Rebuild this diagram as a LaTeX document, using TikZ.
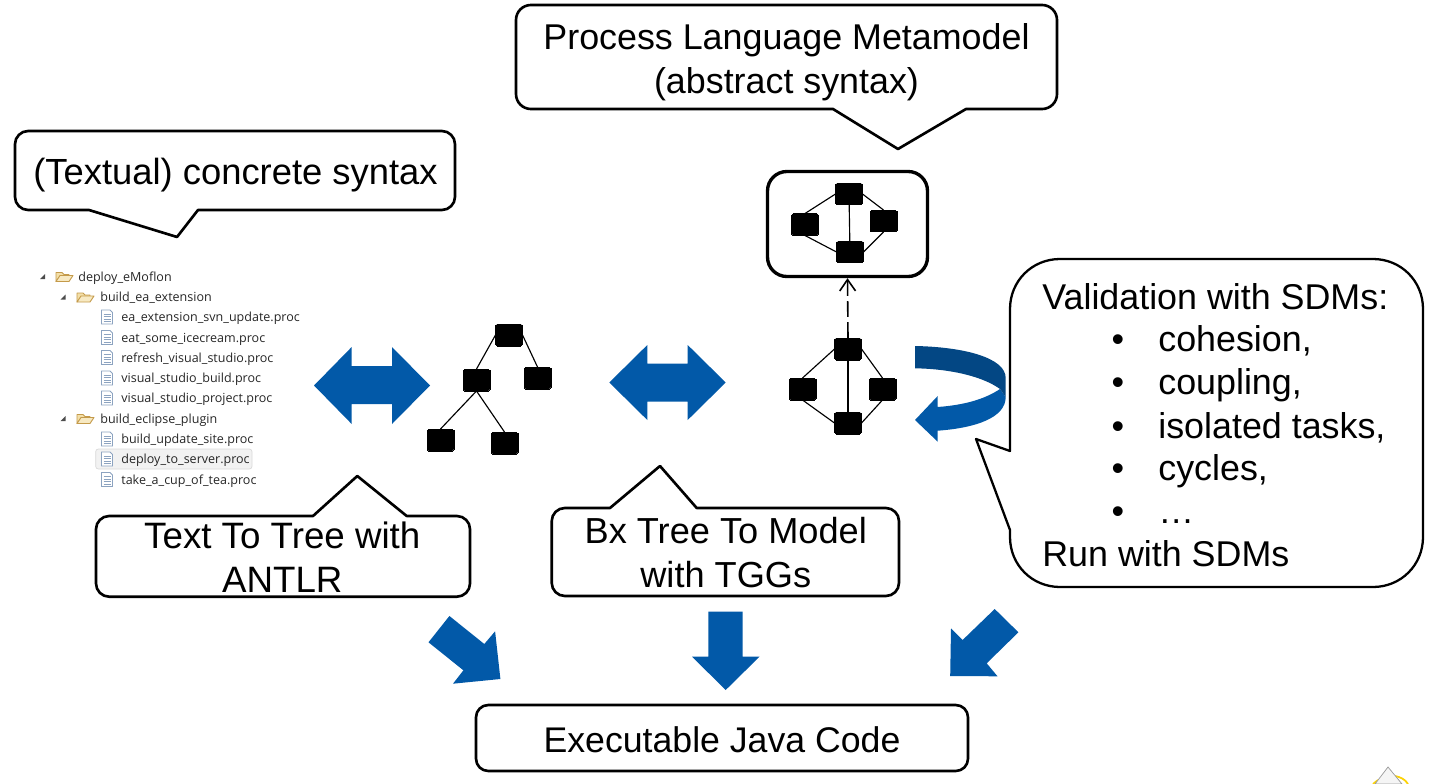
\documentclass[tikz,border=0pt]{standalone}
\usepackage{fontspec}
\setmainfont{Liberation Sans}
\newfontfamily\treefont{Open Sans}
\usetikzlibrary{arrows.meta}
\definecolor{bxblue}{HTML}{0259A8}
\definecolor{bxdark}{HTML}{034784}
\definecolor{folderline}{HTML}{C49A4A}
\definecolor{folderfill}{HTML}{F3DFA8}
\definecolor{fileline}{HTML}{8CA3C0}
\tikzset{
  callout/.style={draw=black,fill=white,line width=1.5pt,line join=round},
  talk/.style={font=\fontsize{#1}{25}\selectfont,align=center,inner sep=0pt},
  talk/.default=20.3,
  talkline/.style={font=\fontsize{20.4}{25}\selectfont,inner sep=0pt},
  graphbox/.style={fill=black,draw=black,line width=0pt,rounded corners=1pt,minimum width=0.54cm,minimum height=0.44cm,inner sep=0pt},
  graphedge/.style={draw=black,line width=0.65pt},
  blockarrow/.style={fill=bxblue},
  treeitem/.style={font=\treefont\fontsize{7.13}{8}\selectfont,text=black!85,anchor=base west,inner sep=0pt},
  treemark/.pic={\fill[black!70] (2.5,-2.5) -- (2.5,2.5) -- (-2.5,2.5) -- cycle;},
  foldericon/.pic={
    \draw[folderline,fill=folderfill,line width=0.5pt,line join=round] (0,5) -- (0,-4) -- (6,-4) -- (8,-2) -- (13,-2) -- (13,0) -- (4,0) -- cycle;
    \draw[folderline,fill=folderfill!70!white,line width=0.5pt,line join=round] (0,5) -- (4,-1) -- (17,-1) -- (13,5) -- cycle;},
  fileicon/.pic={
    \draw[fileline,fill=white,line width=0.5pt] (-5.5,-7) -- (3,-7) -- (5.5,-4.5) -- (5.5,7) -- (-5.5,7) -- cycle;
    \foreach \liney in {-3,-0.5,2,4.5} \draw[fileline,line width=0.4pt] (-3.5,\liney) -- (3.5,\liney);}
}
\begin{document}
\begin{tikzpicture}[x=0.02cm,y=-0.02cm]
\useasboundingbox (0,0) rectangle (1430,784);

\draw[callout,rounded corners=7.5pt] (15,170) -- (15,131) -- (455,131) -- (455,210) -- (215,210) [sharp corners] -- (198,210) -- (177,237) -- (89,210) -- (75,210) [rounded corners=7.5pt] -- (15,210) -- cycle;
\node[talk=20.7] (concrete) at (235.5,175) {(Textual) concrete syntax};

\draw[callout,rounded corners=8.5pt] (516,60) -- (516,5) -- (1057,5) -- (1057,109) -- (985,109) [sharp corners] -- (966,109) -- (898,149) -- (833,109) -- (815,109) [rounded corners=8.5pt] -- (516,109) -- cycle;
\node[talk=20.4] (metamodel) at (786.5,62) {Process Language Metamodel\\(abstract syntax)};

\draw[callout,line width=1.3pt] (1010,451) -- (1010,309) .. controls (1010,281) and (1032,259) .. (1060,259) -- (1373,259) .. controls (1401,259) and (1423,281) .. (1423,309) -- (1423,537) .. controls (1423,565) and (1401,587) .. (1373,587) -- (1060,587) .. controls (1032,587) and (1010,565) .. (1010,537) -- (1010,530) -- (976,439) -- cycle;
\node[talkline,anchor=base west] (validation) at (1042,309) {Validation with SDMs:};
\foreach \rowname/\rowbase/\rowtext in {cohesion/351/cohesion{,},coupling/394.5/coupling{,},isolated/438/isolated tasks{,},cycles/480/cycles{,},more/523/…}{
  \node[talkline,anchor=base west] (\rowname) at (1158,\rowbase) {\rowtext};
  \node[talkline,anchor=base] (bullet\rowname) at (1118,\rowbase) {•};
}
\node[talkline,anchor=base west] (run) at (1042,566) {Run with SDMs};

\draw[callout,rounded corners=7.5pt] (96,560) -- (96,516) -- (295,516) [sharp corners] -- (313,516) -- (357.3,476) -- (406.7,516) -- (425,516) [rounded corners=7.5pt] -- (470,516) -- (470,596.7) -- (96,596.7) -- cycle;
\node[talk=20.9] (texttotree) at (282.3,557.5) {Text To Tree with\\ANTLR};

\draw[callout,rounded corners=7.5pt] (551.7,550) -- (551.7,508) -- (590,508) [sharp corners] -- (610,508) -- (660,466) -- (696.7,508) -- (715,508) [rounded corners=7.5pt] -- (899,508) -- (899,596) -- (551.7,596) -- cycle;
\node[talk=20.6] (treetomodel) at (725.8,552.5) {Bx Tree To Model\\with TGGs};

\draw[callout,rounded corners=7pt] (476,740) -- (476,705) -- (968,705) -- (968,771) -- (476,771) -- cycle;
\node[talk] (javacode) at (722,740) {Executable Java Code};

\fill[blockarrow] (314,385.5) -- (351.7,347) -- (351.7,366) -- (392,366) -- (392,347) -- (430,385.5) -- (392,424) -- (392,404) -- (351.7,404) -- (351.7,424) -- cycle;
\fill[blockarrow] (609.3,382.5) -- (647.3,345) -- (647.3,363.7) -- (687.7,363.7) -- (687.7,345) -- (725.7,382.5) -- (687.7,420) -- (687.7,401.7) -- (647.3,401.7) -- (647.3,420) -- cycle;
\fill[blockarrow] (428.5,642.3) -- (449.4,616) -- (484.3,644) -- (495.1,631.3) -- (500.4,679) -- (453,683.7) -- (463.4,670.3) -- cycle;
\fill[blockarrow] (708.4,611.7) -- (742.5,611.7) -- (742.5,656.7) -- (759.5,656.7) -- (725.7,690) -- (692,656.7) -- (708.4,656.7) -- cycle;
\fill[blockarrow] (994.7,609) -- (1018.4,632.3) -- (986.7,663.3) -- (997.5,676.3) -- (950.2,676) -- (951,628.3) -- (962.6,640) -- cycle;

\fill[bxblue] (1000,389) .. controls (985,399) and (965,405) .. (937.7,407) -- (937.7,396) -- (915,420) -- (937.7,441.7) -- (937.7,430.7) .. controls (975,428) and (1005.7,418) .. (1005.7,397) -- cycle;
\fill[bxdark] (915,346) .. controls (965,347) and (1005.7,358) .. (1005.7,378) -- (1005.7,397) -- (1000,389) .. controls (985,378) and (955,369) .. (915,368.3) -- cycle;

\node[graphbox] (treeroot) at (509,335) {};
\node[graphbox] (treemid) at (476.5,380) {};
\node[graphbox] (treeright) at (537.5,378) {};
\node[graphbox] (treeleft) at (440.5,440) {};
\node[graphbox] (treelow) at (504.5,443) {};
\draw[graphedge] (treeroot.west) -- (treemid.north);
\draw[graphedge] (treeroot.east) -- (treeright.north);
\draw[graphedge] (treemid.south) -- (treeleft.north);
\draw[graphedge] (treemid.south) -- (treelow.north);

\node[draw=black,line width=1.9pt,rounded corners=11pt,minimum width=3.2cm,minimum height=2.1cm,inner sep=0pt] (metabox) at (847.5,224) {};
\node[graphbox] (metatop) at (849,194) {};
\node[graphbox] (metaleft) at (805,224.5) {};
\node[graphbox] (metaright) at (883.5,221) {};
\node[graphbox] (metalow) at (850,252) {};
\draw[graphedge] (metatop.west) -- (metaleft.north);
\draw[graphedge] (metatop.east) -- (metaright.north);
\draw[graphedge] (metatop) -- (metalow);
\draw[graphedge] (metaleft.south) -- (metalow.west);
\draw[graphedge] (metaright.south) -- (metalow.east);

\node[graphbox] (modeltop) at (848,349) {};
\node[graphbox] (modelleft) at (802.5,389) {};
\node[graphbox] (modelright) at (882.5,389) {};
\node[graphbox] (modellow) at (848,423) {};
\draw[graphedge] (modeltop.west) -- (modelleft.north);
\draw[graphedge] (modeltop.east) -- (modelright.north);
\draw[graphedge] (modeltop) -- (modellow);
\draw[graphedge] (modelleft.south) -- (modellow.west);
\draw[graphedge] (modelright.south) -- (modellow.east);
\draw[line width=0.9pt,dash pattern=on 9pt off 3pt,-{Straight Barb[length=6.5pt,width=9pt]}] (modeltop.north) -- (metabox.south);

\pic at (42.7,276.5) {treemark};
\pic at (63,297) {treemark};
\pic at (63,418.5) {treemark};
\pic at (56,276.5) {foldericon};
\pic at (77,297) {foldericon};
\pic at (77,418.5) {foldericon};
\node[treeitem] (deploy) at (78,281) {deploy\_eMoflon};
\node[treeitem] (buildea) at (100,301) {build\_ea\_extension};
\node[treeitem] (buildeclipse) at (100,423) {build\_eclipse\_plugin};
\fill[black!5,draw=black!15,line width=0.4pt,rounded corners=1.5pt] (95.7,449) rectangle (252,469);
\foreach \rowname/\rowmid/\rowtext in {svnupdate/317/ea\_extension\_svn\_update.proc,icecream/337.5/eat\_some\_icecream.proc,refresh/357.5/refresh\_visual\_studio.proc,vsbuild/378/visual\_studio\_build.proc,vsproject/398/visual\_studio\_project.proc,updatesite/439/build\_update\_site.proc,toserver/459/deploy\_to\_server.proc,cupoftea/479.5/take\_a\_cup\_of\_tea.proc}{
  \pic at (107,\rowmid) {fileicon};
  \node[treeitem] (\rowname) at (121,\rowmid+4.5) {\rowtext};
}

\draw[yellow!70!orange,line width=1pt] (1373,784) -- (1378,780);
\draw[yellow!70!orange,line width=1pt] (1408,784) .. controls (1405,779) and (1400,777) .. (1395,776);
\fill[black!4,draw=black!40,line width=0.4pt] (1388,767) -- (1375,784) -- (1402,784) -- cycle;
\end{tikzpicture}
\end{document}
